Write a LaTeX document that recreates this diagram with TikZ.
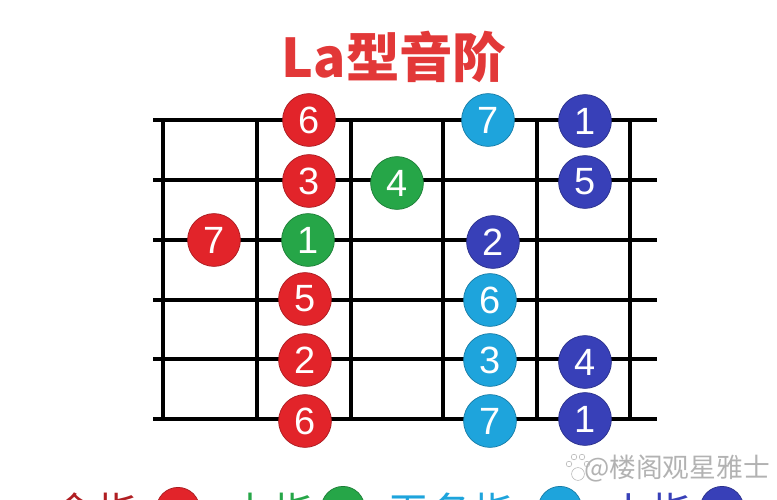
\documentclass[tikz,border=0pt]{standalone}
\usepackage{fontspec}
\setmainfont{Liberation Sans}
\newfontfamily\cjk{Noto Sans CJK SC}
\definecolor{fingerR}{RGB}{226,36,42}
\definecolor{fingerG}{RGB}{38,166,72}
\definecolor{fingerL}{RGB}{30,164,220}
\definecolor{fingerB}{RGB}{56,64,184}
\definecolor{titleR}{RGB}{226,56,56}
\definecolor{legendR}{RGB}{176,30,34}

\begin{document}
\begin{tikzpicture}[x=0.025cm, y=-0.025cm,
  fret/.style={line width=2.2pt, black},
  note/.style={circle, minimum size=1.32cm, inner sep=0pt, fill=#1, draw=#1!75!black, line width=0.5pt, text=white, font=\fontsize{27}{27}\selectfont},
  key/.style={circle, minimum size=1.08cm, inner sep=0pt, fill=#1, draw=#1!75!black, line width=0.5pt},
  keytext/.style={text=#1, font=\cjk\fontsize{30}{30}\selectfont}]
\useasboundingbox (0,0) rectangle (777,500);
\clip (0,0) rectangle (777,500);
\foreach \y in {120,180,240,300,359,419}
    \draw[fret] (153,\y) -- (657,\y);
\foreach \x in {163,257,351,443,537,630}
    \draw[fret] (\x,120) -- (\x,419);
\node[text=titleR, font=\cjk\bfseries\fontsize{38}{38}\selectfont] (title) at (394,57) {La型音阶};
\node[note=fingerR] (s1a) at (309,120) {6};
\node[note=fingerL] (s1b) at (488,120) {7};
\node[note=fingerB] (s1c) at (585,121) {1};
\node[note=fingerR] (s2a) at (309,181) {3};
\node[note=fingerG] (s2b) at (397,183) {4};
\node[note=fingerB] (s2c) at (585,182) {5};
\node[note=fingerR] (s3a) at (214,240) {7};
\node[note=fingerG] (s3b) at (308,240) {1};
\node[note=fingerB] (s3c) at (493,242) {2};
\node[note=fingerR] (s4a) at (305,299) {5};
\node[note=fingerL] (s4b) at (490,300) {6};
\node[note=fingerR] (s5a) at (305,360) {2};
\node[note=fingerL] (s5b) at (490,360) {3};
\node[note=fingerB] (s5c) at (585,362) {4};
\node[note=fingerR] (s6a) at (305,421) {6};
\node[note=fingerL] (s6b) at (490,421) {7};
\node[note=fingerB] (s6c) at (585,419) {1};
\node[text=black!30, font=\cjk\fontsize{19}{19}\selectfont] (mark) at (677,468) {@楼阁观星雅士};
\node[draw=black!30, circle, minimum size=0.32cm, inner sep=0pt] (paw) at (578,474) {};
\foreach \dx/\dy in {-9/-4,-4/-11,4/-11,9/-4}
    \node[draw=black!30, circle, minimum size=0.14cm, inner sep=0pt] at (578+\dx,468+\dy) {};
\node[keytext=legendR] (k1) at (96,512) {食指};
\node[key=fingerR] (c1) at (178,509) {};
\node[keytext=fingerG] (k2) at (272,512) {中指};
\node[key=fingerG] (c2) at (343,508) {};
\node[keytext=fingerL] (k3) at (451,512) {无名指};
\node[key=fingerL] (c3) at (560,508) {};
\node[keytext=fingerB] (k4) at (650,512) {小指};
\node[key=fingerB] (c4) at (722,508) {};
\end{tikzpicture}
\end{document}
